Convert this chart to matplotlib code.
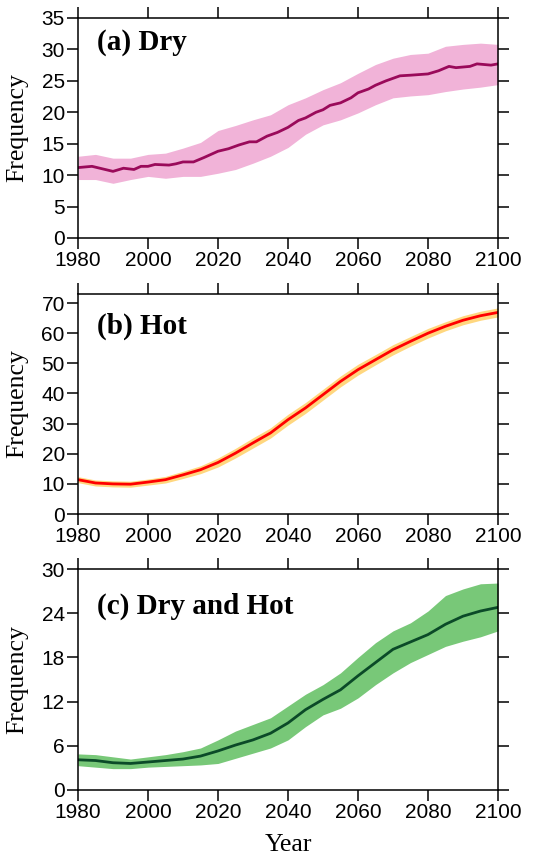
import matplotlib
matplotlib.use('Agg')
import matplotlib.pyplot as plt
import numpy as np

# ---- data ----
years5 = [1980, 1985, 1990, 1995, 2000, 2005, 2010, 2015, 2020, 2025, 2030, 2035, 2040,
          2045, 2050, 2055, 2060, 2065, 2070, 2075, 2080, 2085, 2090, 2095, 2100]

# (a) Dry
dry_years = [1980, 1984, 1990, 1993, 1996, 1998, 2000, 2002, 2006, 2008, 2010, 2013, 2016,
             2020, 2023, 2026, 2029, 2031, 2034, 2037, 2040, 2043, 2045, 2048, 2050, 2052,
             2055, 2058, 2060, 2063, 2065, 2068, 2072, 2075, 2080, 2083, 2086, 2088, 2092,
             2094, 2098, 2100]
dry_mid = [11.2, 11.4, 10.6, 11.1, 10.9, 11.4, 11.4, 11.7, 11.6, 11.8, 12.1, 12.1, 12.8,
           13.8, 14.2, 14.8, 15.3, 15.3, 16.2, 16.8, 17.6, 18.7, 19.1, 20.0, 20.4, 21.1,
           21.5, 22.3, 23.1, 23.7, 24.3, 25.0, 25.8, 25.9, 26.1, 26.6, 27.3, 27.1, 27.3,
           27.7, 27.5, 27.7]
dry_hi = [13.0, 13.3, 12.7, 12.7, 13.3, 13.5, 14.3, 15.2, 17.1, 17.9, 18.8, 19.6, 21.2,
          22.3, 23.6, 24.7, 26.2, 27.6, 28.6, 29.2, 29.4, 30.5, 30.8, 31.0, 30.8]
dry_lo = [9.3, 9.3, 8.7, 9.3, 9.8, 9.5, 9.8, 9.8, 10.3, 10.9, 11.9, 13.0, 14.4,
          16.5, 18.0, 18.8, 19.9, 21.2, 22.3, 22.6, 22.8, 23.3, 23.7, 24.0, 24.4]

# (b) Hot
hot_mid = [11.4, 10.3, 10.0, 9.9, 10.6, 11.4, 13.0, 14.7, 17.1, 20.2, 23.6, 26.9, 31.3,
           35.2, 39.6, 44.0, 47.9, 51.2, 54.5, 57.3, 60.0, 62.3, 64.3, 65.8, 66.9]
hot_hi = [12.4, 11.3, 11.0, 10.9, 11.6, 12.5, 14.2, 16.0, 18.6, 21.8, 25.3, 28.6, 33.1,
          37.0, 41.4, 45.8, 49.7, 52.9, 56.2, 58.9, 61.6, 63.8, 65.8, 67.3, 68.4]
hot_lo = [10.4, 9.3, 9.0, 8.9, 9.6, 10.3, 11.8, 13.4, 15.6, 18.6, 21.9, 25.2, 29.5,
          33.4, 37.8, 42.2, 46.1, 49.5, 52.8, 55.7, 58.4, 60.8, 62.8, 64.3, 65.4]

# (c) Dry and Hot
dh_mid = [4.1, 4.0, 3.7, 3.6, 3.8, 4.0, 4.2, 4.6, 5.3, 6.1, 6.8, 7.7, 9.1,
          10.9, 12.3, 13.6, 15.5, 17.3, 19.1, 20.1, 21.1, 22.5, 23.6, 24.3, 24.8]
dh_hi = [4.9, 4.8, 4.5, 4.2, 4.5, 4.8, 5.2, 5.7, 6.8, 8.0, 8.9, 9.8, 11.4,
         13.0, 14.3, 15.9, 18.0, 20.0, 21.6, 22.7, 24.3, 26.4, 27.3, 28.0, 28.1]
dh_lo = [3.3, 3.1, 2.9, 2.9, 3.1, 3.2, 3.3, 3.4, 3.6, 4.3, 5.0, 5.7, 6.8,
         8.6, 10.2, 11.1, 12.5, 14.3, 15.9, 17.3, 18.4, 19.5, 20.2, 20.8, 21.6]

xticks = [1980, 2000, 2020, 2040, 2060, 2080, 2100]

plt.rcParams['font.family'] = ['Liberation Sans', 'DejaVu Sans']
plt.rcParams['axes.linewidth'] = 1.1

fig = plt.figure(figsize=(5.5, 8.57), dpi=100)
left, width = 0.1418, 0.7636
ax_a = fig.add_axes([left, 0.7223, width, 0.2567])
ax_b = fig.add_axes([left, 0.4002, width, 0.2567])
ax_c = fig.add_axes([left, 0.0782, width, 0.2578])

panels = [
    (ax_a, dry_years, dry_mid, dry_lo, dry_hi, '#f1b3d8', '#9a0a5a', (0, 35), np.arange(0, 36, 5), '(a) Dry', 0.855),
    (ax_b, years5, hot_mid, hot_lo, hot_hi, '#ffd77f', '#ff0000', (0, 73), np.arange(0, 71, 10), '(b) Hot', 0.822),
    (ax_c, years5, dh_mid, dh_lo, dh_hi, '#78c878', '#0b4a28', (0, 30), np.arange(0, 31, 6), '(c) Dry and Hot', 0.80),
]

for ax, yrs, mid, lo, hi, fill_c, line_c, ylim, yticks, title, ty in panels:
    ax.fill_between(years5, lo, hi, color=fill_c, linewidth=0)
    ax.plot(yrs, mid, color=line_c, linewidth=2.0)
    ax.set_xlim(1980, 2100)
    ax.set_ylim(*ylim)
    ax.set_xticks(xticks)
    ax.set_yticks(yticks)
    ax.tick_params(direction='out', length=8, width=1.1, labelsize=15, pad=1.5,
                   top=True, right=True)
    ax.set_ylabel('Frequency', family='Liberation Serif', fontsize=18.5)
    ax.yaxis.set_label_coords(-0.119, 0.5)
    ax.text(0.045, ty, title, transform=ax.transAxes, family='Liberation Serif',
            fontsize=21, fontweight='bold', va='baseline', ha='left')

ax_c.set_xlabel('Year', family='Liberation Serif', fontsize=18.5)
ax_c.xaxis.set_label_coords(0.5, -0.20)

fig.savefig('out.png', dpi=100)
